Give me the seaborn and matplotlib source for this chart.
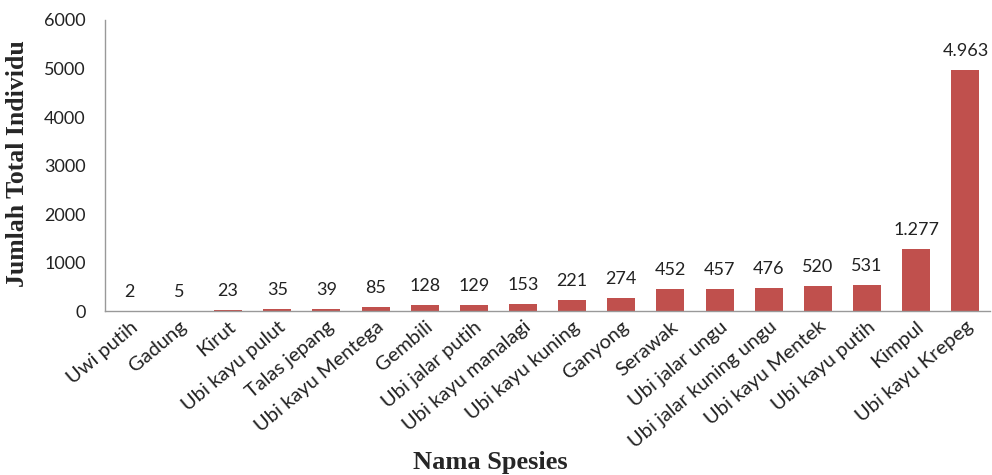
import matplotlib
matplotlib.use("Agg")
import matplotlib.pyplot as plt
import seaborn as sns
import pandas as pd

species = ["Uwi putih", "Gadung", "Kirut", "Ubi kayu pulut", "Talas jepang",
           "Ubi kayu Mentega", "Gembili", "Ubi jalar putih", "Ubi kayu manalagi",
           "Ubi kayu kuning", "Ganyong", "Serawak", "Ubi jalar ungu",
           "Ubi jalar kuning ungu", "Ubi kayu Mentek", "Ubi kayu putih",
           "Kimpul", "Ubi kayu Krepeg"]
counts = [2, 5, 23, 35, 39, 85, 128, 129, 153, 221, 274, 452, 457, 476, 520, 531, 1277, 4963]
y_ticks = [0, 1000, 2000, 3000, 4000, 5000, 6000]

df = pd.DataFrame({"species": species, "count": counts})

sns.set_style("white")
plt.rcParams["font.family"] = ["Lato", "DejaVu Sans"]

fig = plt.figure(figsize=(9.92, 4.75), dpi=100)
ax = fig.add_axes([0.106, 0.345, 0.892, 0.613])
sns.barplot(data=df, x="species", y="count", color="#C0504D", width=0.57,
            saturation=1, ax=ax, edgecolor="none")

for i, v in enumerate(counts):
    lbl = f"{v:,}".replace(",", ".")
    ax.text(i, v + 230, lbl, ha="center", va="bottom", fontsize=13, color="#222222")

ax.set_ylim(0, 6000)
ax.set_xlim(-0.5, len(species) - 0.5)
ax.set_yticks(y_ticks)
ax.set_yticklabels([str(t) for t in y_ticks], fontsize=13, color="#222222")
ax.tick_params(axis="y", length=0, pad=14)
ax.tick_params(axis="x", length=0, pad=5)
ax.set_xticks(range(len(species)))
ax.set_xticklabels(species, rotation=40, ha="right", rotation_mode="anchor",
                   fontsize=14.5, color="#222222")
for s in ["top", "right"]:
    ax.spines[s].set_visible(False)
ax.spines["left"].set_color("#999999")
ax.spines["bottom"].set_color("#999999")
ax.spines["left"].set_linewidth(1)
ax.spines["bottom"].set_linewidth(1)

ax.set_ylabel("")
ax.set_xlabel("")
fig.text(0.018, 0.655, "Jumlah Total Individu", family="Liberation Serif",
         fontweight="bold", fontsize=18.5, ha="center", va="center", rotation=90)
fig.text(0.494, 0.003, "Nama Spesies", family="Liberation Serif", fontweight="bold",
         fontsize=19, ha="center", va="bottom")

fig.savefig("out.png", dpi=100)
